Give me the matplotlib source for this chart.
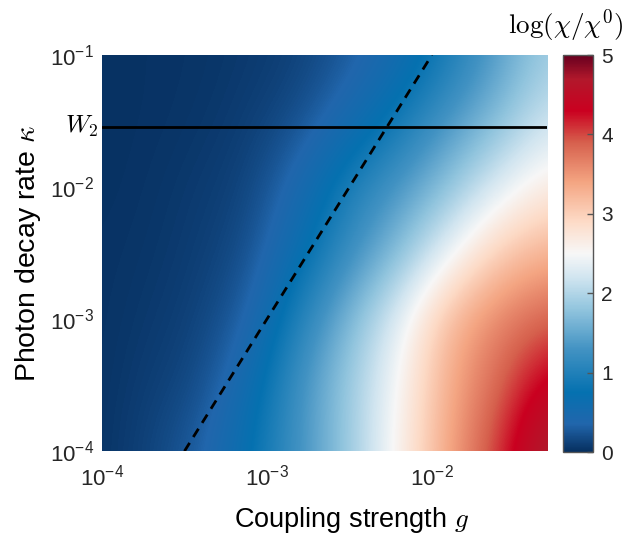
import numpy as np
import matplotlib
matplotlib.use("Agg")
import matplotlib.pyplot as plt
from matplotlib.colors import LinearSegmentedColormap

plt.rcParams['font.family'] = ['Liberation Sans', 'DejaVu Sans']

# ---- data ----
log_g = [-4.0, -3.7, -3.4, -3.1, -2.8, -2.5, -2.2, -1.9, -1.6, -1.3]
log_kappa = [-4.0, -3.5, -3.0, -2.5, -2.0, -1.5, -1.0]
# rows follow log_kappa, columns follow log_g
chi_rows = [
    [0.03, 0.14, 0.31, 0.75, 1.30, 1.85, 2.60, 3.40, 4.10, 4.90],
    [0.03, 0.10, 0.18, 0.57, 1.30, 1.87, 2.52, 3.35, 3.85, 4.45],
    [0.03, 0.07, 0.13, 0.33, 1.03, 1.68, 2.35, 3.25, 3.65, 3.90],
    [0.03, 0.05, 0.10, 0.20, 0.66, 1.22, 1.72, 2.40, 3.05, 3.30],
    [0.02, 0.04, 0.08, 0.14, 0.44, 0.98, 1.35, 1.77, 2.30, 2.70],
    [0.02, 0.03, 0.05, 0.10, 0.20, 0.48, 0.88, 1.34, 1.72, 2.20],
    [0.02, 0.03, 0.04, 0.07, 0.12, 0.26, 0.50, 0.92, 1.42, 1.90],
]
dash_g = [3.16e-4, 1.0e-2]
dash_kappa = [1.0e-4, 1.0e-1]
w2_kappa = 0.0286
g_range = [1e-4, 0.05]
kappa_range = [1e-4, 1e-1]
x_ticks = [1e-4, 1e-3, 1e-2]
x_ticklabels = [r'$\mathregular{10^{-4}}$', r'$\mathregular{10^{-3}}$', r'$\mathregular{10^{-2}}$']
y_ticks = [1e-4, 1e-3, 1e-2, 1e-1]
y_ticklabels = [r'$\mathregular{10^{-4}}$', r'$\mathregular{10^{-3}}$', r'$\mathregular{10^{-2}}$', r'$\mathregular{10^{-1}}$']
cbar_ticks = [0, 1, 2, 3, 4, 5]

# ---- colormap ----
cmap_nodes = [
    (0.00, '#062f5f'), (0.07, '#2166ac'), (0.15, '#0571b0'), (0.26, '#4393c3'),
    (0.36, '#92c5de'), (0.44, '#d1e5f0'), (0.50, '#f7f7f7'), (0.58, '#fddbc7'),
    (0.68, '#f4a582'), (0.78, '#d6604d'), (0.86, '#ca0020'), (0.94, '#b2182b'),
    (1.00, '#67001f'),
]
cmap = LinearSegmentedColormap.from_list('rdbu_custom', cmap_nodes, N=512)

fig = plt.figure(figsize=(6.34, 5.39), dpi=100)
rect = [0.161, 0.163, 0.702, 0.735]
# background axes in log10 units carrying the smooth heat map
bg = fig.add_axes(rect)
ax = fig.add_axes(rect)
cax = fig.add_axes([0.888, 0.1614, 0.0473, 0.7365])

C = np.array(chi_rows)
du = log_g[1] - log_g[0]
dv = log_kappa[1] - log_kappa[0]
im = bg.imshow(C, origin='lower', cmap=cmap, vmin=0, vmax=5,
               interpolation='bicubic', aspect='auto',
               extent=[log_g[0] - du / 2, log_g[-1] + du / 2,
                       log_kappa[0] - dv / 2, log_kappa[-1] + dv / 2])
bg.set_xlim(np.log10(g_range))
bg.set_ylim(np.log10(kappa_range))
bg.axis('off')

ax.patch.set_visible(False)
ax.set_xscale('log')
ax.set_yscale('log')
ax.set_xlim(g_range)
ax.set_ylim(kappa_range)

ax.plot(dash_g, dash_kappa, color='black', lw=2.0, linestyle=(0, (3.5, 2.5)))
ax.axhline(w2_kappa, color='black', lw=2.0)

for s in ax.spines.values():
    s.set_visible(False)
ax.set_xticks(x_ticks)
ax.set_xticklabels(x_ticklabels)
ax.set_yticks(y_ticks)
ax.set_yticklabels(y_ticklabels)
ax.minorticks_off()
ax.tick_params(axis='both', which='both', length=0, labelsize=16,
               labelcolor='#262626')
ax.tick_params(axis='x', pad=10)
ax.tick_params(axis='y', pad=6)

ax.set_xlabel(r'Coupling strength $g$', fontsize=19.5, labelpad=9)
ax.xaxis.set_label_coords(0.56, -0.135)
ax.set_ylabel(r'Photon decay rate $\kappa$', fontsize=20.5, labelpad=5)
ax.xaxis.label.set_math_fontfamily('cm')
ax.yaxis.label.set_math_fontfamily('cm')

ax.text(-0.008, w2_kappa, r'$W_2$', transform=ax.get_yaxis_transform(),
        ha='right', va='center', fontsize=18, math_fontfamily='cm')

cb = fig.colorbar(im, cax=cax, ticks=cbar_ticks)
cb.outline.set_edgecolor('#555555')
cb.outline.set_linewidth(1.0)
cax.tick_params(direction='in', length=4, width=1, color='#555555',
                labelsize=15, labelcolor='#262626', pad=6)
cb.ax.minorticks_off()

fig.text(0.892, 0.953, r'$\log(\chi/\chi^0)$', ha='center', va='center',
         fontsize=19.5, math_fontfamily='cm')

fig.savefig('out.png', dpi=100)
